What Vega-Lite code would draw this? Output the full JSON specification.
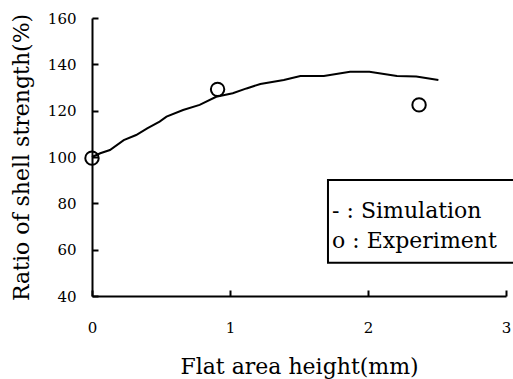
{
  "$schema": "https://vega.github.io/schema/vega-lite/v6.json",
  "width": 414,
  "height": 278,
  "autosize": {"type": "none"},
  "padding": {"left": 92, "top": 18, "right": 7, "bottom": 83},
  "background": "white",
  "config": {
    "view": {"stroke": null},
    "font": "DejaVu Serif",
    "axis": {
      "grid": false,
      "domainColor": "black",
      "domainWidth": 2,
      "tickColor": "black",
      "tickWidth": 2,
      "tickSize": -6,
      "labelFlush": false,
      "labelFont": "DejaVu Serif",
      "labelFontSize": 15,
      "labelColor": "black",
      "titleFont": "DejaVu Serif",
      "titleFontSize": 22,
      "titleFontWeight": "normal",
      "titleColor": "black"
    }
  },
  "datasets": {
    "sim": [
      {"h": 0.0, "r": 100.0},
      {"h": 0.06, "r": 101.6},
      {"h": 0.13, "r": 103.0},
      {"h": 0.23, "r": 107.3},
      {"h": 0.32, "r": 109.5},
      {"h": 0.4, "r": 112.4},
      {"h": 0.49, "r": 115.3},
      {"h": 0.54, "r": 117.4},
      {"h": 0.66, "r": 120.3},
      {"h": 0.78, "r": 122.5},
      {"h": 0.9, "r": 126.0},
      {"h": 1.02, "r": 127.5},
      {"h": 1.12, "r": 129.6},
      {"h": 1.22, "r": 131.5},
      {"h": 1.39, "r": 133.2},
      {"h": 1.51, "r": 135.0},
      {"h": 1.68, "r": 135.0},
      {"h": 1.87, "r": 136.8},
      {"h": 2.01, "r": 136.8},
      {"h": 2.21, "r": 135.0},
      {"h": 2.35, "r": 134.7},
      {"h": 2.51, "r": 133.2}
    ],
    "exp": [
      {"h": 0.0, "r": 99.5},
      {"h": 0.91, "r": 129.2},
      {"h": 2.37, "r": 122.5}
    ],
    "note": [{"key": "legend"}]
  },
  "layer": [
    {
      "data": {"name": "sim"},
      "mark": {"type": "line", "color": "black", "strokeWidth": 2},
      "encoding": {
        "x": {
          "field": "h", "type": "quantitative",
          "scale": {"domain": [0, 3], "nice": false},
          "axis": {"values": [0, 1, 2, 3], "format": "d", "labelPadding": 30, "title": "Flat area height(mm)", "titlePadding": 21}
        },
        "y": {
          "field": "r", "type": "quantitative",
          "scale": {"domain": [40, 160], "nice": false},
          "axis": {"values": [40, 60, 80, 100, 120, 140, 160], "labelPadding": 22, "title": "Ratio of shell strength(%)", "titlePadding": 14}
        }
      }
    },
    {
      "data": {"name": "exp"},
      "mark": {"type": "point", "shape": "circle", "filled": false, "color": "black", "strokeWidth": 2, "size": 180, "opacity": 1},
      "encoding": {
        "x": {"field": "h", "type": "quantitative"},
        "y": {"field": "r", "type": "quantitative"}
      }
    },
    {
      "data": {"name": "note"},
      "mark": {"type": "rect", "fill": "white", "stroke": "black", "strokeWidth": 2, "clip": false},
      "encoding": {
        "x": {"datum": 1.71, "type": "quantitative"},
        "x2": {"datum": 3.1},
        "y": {"datum": 90.1, "type": "quantitative"},
        "y2": {"datum": 54.3}
      }
    },
    {
      "data": {"name": "note"},
      "mark": {"type": "text", "align": "left", "baseline": "alphabetic", "font": "DejaVu Serif", "fontSize": 22, "color": "black"},
      "encoding": {
        "x": {"datum": 1.74, "type": "quantitative"},
        "y": {"datum": 73.7, "type": "quantitative"},
        "text": {"value": "- : Simulation"}
      }
    },
    {
      "data": {"name": "note"},
      "mark": {"type": "text", "align": "left", "baseline": "alphabetic", "font": "DejaVu Serif", "fontSize": 22, "color": "black"},
      "encoding": {
        "x": {"datum": 1.74, "type": "quantitative"},
        "y": {"datum": 60.7, "type": "quantitative"},
        "text": {"value": "o : Experiment"}
      }
    }
  ]
}
